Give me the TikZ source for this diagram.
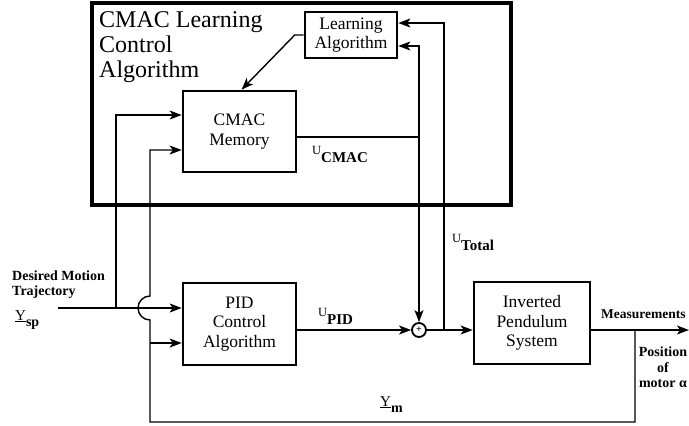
\documentclass[tikz,border=0pt]{standalone}
\usepackage{fontspec}
\setmainfont{Liberation Serif}
\usetikzlibrary{arrows.meta,positioning,calc}

% signal name: small letter, large lowered subscript
\newcommand{\sig}[2]{{\fontsize{12.5}{12.5}\selectfont #1}\raisebox{-8pt}{\fontsize{15}{15}\selectfont\bfseries #2}}
\newcommand{\vecsig}[2]{{\fontsize{15}{15}\selectfont\underline{Y}}\raisebox{-6pt}{\fontsize{14}{14}\selectfont\bfseries #2}}

\begin{document}
\begin{tikzpicture}[x=1pt, y=-1pt,
  frame/.style={rectangle, draw, line width=3.5pt,
                minimum width=419pt, minimum height=202pt},
  blk/.style={rectangle, draw, line width=2.6pt, align=center,
              font=\fontsize{17.5}{19.5}\selectfont},
  sumnode/.style={circle, draw, line width=1.8pt, minimum size=14pt, inner sep=0pt},
  lbl/.style={font=\fontsize{13.5}{14.5}\selectfont\bfseries, align=center, inner sep=0pt},
  arr/.style={-{Stealth[length=12pt, width=9pt, inset=3pt]}, line width=1.4pt},
  wire/.style={line width=1.4pt}
]
\useasboundingbox (0,0) rectangle (689,426);

% CMAC learning part
\node[frame] (cmacbox) at (301.5,104) {};
\node[anchor=north west, align=left, inner sep=0pt,
      font=\fontsize{24}{25}\selectfont] (title) at (99,11)
  {CMAC Learning\\Control\\Algorithm};

% Blocks
\node[blk, minimum width=92pt, minimum height=46pt] (learn) at (351,35) {Learning\\Algorithm};
\node[blk, minimum width=113pt, minimum height=81pt] (cmac) at (239.5,131.5) {CMAC\\Memory};
\node[blk, minimum width=113pt, minimum height=82pt] (pid) at (239.5,324) {PID\\Control\\Algorithm};
\node[sumnode] (sum) at (419,330) {\fontsize{10}{10}\selectfont\bfseries +};
\node[blk, minimum width=116pt, minimum height=82pt] (pend) at (532,323) {Inverted\\Pendulum\\System};

% Junctions and free ends
\coordinate (spin)    at (58,308);
\coordinate (spbr)    at (116,308);
\coordinate (fbpid)   at (150,343);
\coordinate (fbcorner) at (150,422);
\coordinate (cmacjn)  at (419,137);
\coordinate (totjn)   at (444,330);
\coordinate (tap)     at (635,330);
\coordinate (measout) at (689,330);

% Setpoint
\draw[arr] (spin) -- (pid.west |- spin);
\draw[arr] (spbr) |- (cmac.west |- 0,115);

% Feedback (hops over the setpoint line)
\draw[arr] (tap) |- (fbcorner) -- (150,320)
  arc[start angle=270, end angle=90, radius=12pt] |- (cmac.west |- 0,150);
\draw[arr] (fbpid) -- (pid.west |- fbpid);

% Control signals
\draw[arr] (pid.east |- sum) -- (sum.west);
\draw[wire] (cmac.east |- cmacjn) -- (cmacjn);
\draw[arr] (cmacjn) -- (sum.north);
\draw[arr] (cmacjn) |- (learn.east |- 0,46);
\draw[arr] (sum.east) -- (pend.west |- sum);
\draw[arr] (totjn) |- (learn.east |- 0,23);
\draw[arr] (pend.east |- sum) -- (measout);
\draw[arr] (learn.west) -- ++(-9,0) -- ([xshift=2pt]cmac.north);

% Labels
\node[anchor=base west, inner sep=0pt] (ucmac)  at (312,154) {\sig{U}{CMAC}};
\node[anchor=base west, inner sep=0pt] (upid)   at (318,316) {\sig{U}{PID}};
\node[anchor=base west, inner sep=0pt] (utotal) at (452,242) {\sig{U}{Total}};
\node[anchor=base west, inner sep=0pt] (ysp)    at (15,320)  {\vecsig{Y}{sp}};
\node[anchor=base west, inner sep=0pt] (ym)     at (380,406) {\vecsig{Y}{m}};
\node[lbl, anchor=north west, align=left, font=\fontsize{14}{14.5}\selectfont\bfseries] (desired) at (12,271) {Desired Motion\\Trajectory};
\node[lbl, anchor=base west] (meas) at (601,318) {Measurements};
\node[lbl, anchor=north, font=\fontsize{14}{15.5}\selectfont\bfseries] (posn) at (663,347) {Position\\of\\motor α};
\end{tikzpicture}
\end{document}
